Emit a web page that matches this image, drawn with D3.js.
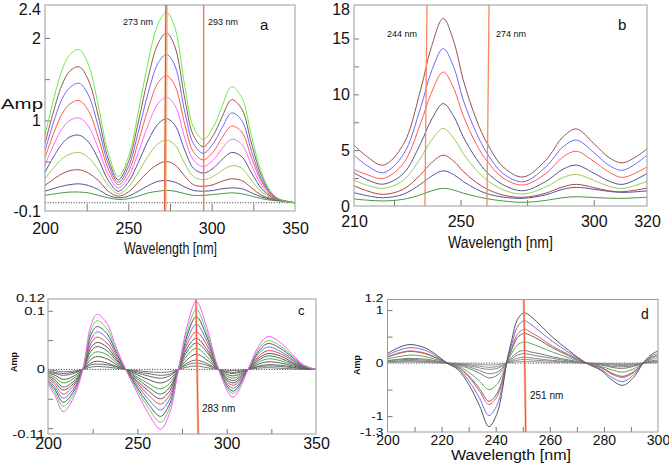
<!DOCTYPE html>
<html><head><meta charset="utf-8">
<script src="https://cdn.jsdelivr.net/npm/d3@7/dist/d3.min.js"></script>
<style>body{margin:0;background:#fff}svg{display:block}text{font-family:"Liberation Sans",Arial,sans-serif;fill:#111}</style>
</head><body><svg id="chart" width="669" height="463"></svg>
<script>
// ---------- Panel a ----------
const wlA = [200,210,215,220.5,226,232,238,244,250,256,262,268,273,278,284,289,295,301,306,312,318,324,330,336,342,350];
const a1 = [0.82,1.60,1.80,1.86,1.68,1.18,0.60,0.32,0.55,1.10,1.72,2.18,2.31,2.12,1.40,0.92,0.77,0.92,1.16,1.41,1.28,0.80,0.36,0.12,0.03,0.00];
const a2 = [0.72,1.42,1.60,1.65,1.49,1.05,0.53,0.28,0.49,0.98,1.53,1.94,2.06,1.89,1.25,0.82,0.68,0.82,1.03,1.25,1.14,0.71,0.32,0.11,0.03,0.00];
const a3 = [0.63,1.25,1.40,1.45,1.31,0.92,0.47,0.25,0.43,0.86,1.34,1.70,1.80,1.66,1.09,0.72,0.60,0.72,0.90,1.09,1.00,0.62,0.28,0.10,0.03,0.00];
const a4 = [0.55,1.07,1.20,1.24,1.12,0.79,0.41,0.22,0.37,0.74,1.15,1.46,1.54,1.42,0.94,0.62,0.52,0.62,0.78,0.93,0.86,0.54,0.25,0.09,0.03,0.00];
const a5 = [0.46,0.89,1.00,1.03,0.93,0.66,0.34,0.18,0.31,0.61,0.95,1.21,1.28,1.18,0.78,0.52,0.44,0.52,0.65,0.77,0.71,0.45,0.21,0.08,0.03,0.00];
const a6 = [0.37,0.71,0.80,0.82,0.74,0.53,0.27,0.14,0.25,0.49,0.76,0.96,1.02,0.94,0.63,0.42,0.36,0.42,0.52,0.61,0.56,0.36,0.17,0.07,0.03,0.00];
const a7 = [0.29,0.53,0.59,0.61,0.55,0.40,0.21,0.11,0.19,0.37,0.57,0.72,0.76,0.70,0.47,0.32,0.28,0.32,0.39,0.45,0.42,0.27,0.13,0.06,0.03,0.00];
const a8 = [0.21,0.35,0.39,0.40,0.36,0.27,0.14,0.08,0.13,0.25,0.38,0.47,0.50,0.46,0.32,0.22,0.20,0.22,0.26,0.29,0.27,0.18,0.09,0.05,0.03,0.00];
const a9 = [0.14,0.20,0.22,0.23,0.21,0.16,0.09,0.06,0.08,0.14,0.21,0.26,0.27,0.25,0.19,0.15,0.14,0.15,0.17,0.18,0.17,0.12,0.07,0.04,0.02,0.00];
const a10 = [0.09,0.12,0.13,0.13,0.12,0.09,0.06,0.04,0.05,0.08,0.12,0.14,0.15,0.14,0.11,0.09,0.09,0.10,0.11,0.12,0.11,0.08,0.05,0.03,0.02,0.00];
const colorsA = ["#66ee44","#9a5555","#6a6aff","#ff5a45","#ff66ff","#55559a","#9acc55","#a84848","#55558a","#449944"];
const xLabelsA = [200,250,300,350], xMarksA = [225,250,275,300,325];
const yLabelsA = [-0.1,1,2,2.4], yMarksA = [0.5,1,1.5,2];

// ---------- Panel b ----------
const wlB = [210,215,221,228.5,235,239,243.5,247.5,251,256,260,266,273.5,282,288.5,293.5,300,306,311,320];
const b1 = [5.45,4.4,3.66,5.5,10.4,14.2,16.8,14.7,11.3,7.7,5.6,3.5,2.6,4.1,6.2,6.9,5.6,4.3,3.87,5.1];
const b2 = [4.55,3.6,2.98,4.6,8.8,12.0,14.1,12.4,9.5,6.5,4.7,2.9,2.17,3.5,5.3,5.9,4.8,3.6,3.2,4.55];
const b3 = [3.27,2.8,2.47,3.8,7.4,10.1,12.0,10.5,8.1,5.5,4.0,2.5,1.88,2.9,4.4,4.9,4.0,3.0,2.56,3.5];
const b4 = [2.97,2.35,1.96,2.9,5.6,7.7,9.17,8.0,6.2,4.2,3.0,1.9,1.37,2.2,3.3,3.66,2.95,2.2,1.94,2.9];
const b5 = [2.32,1.85,1.58,2.3,4.3,5.85,6.94,6.05,4.7,3.2,2.3,1.45,1.07,1.7,2.55,2.83,2.3,1.75,1.58,2.2];
const b6 = [1.81,1.35,1.04,1.5,2.8,3.85,4.55,4.0,3.1,2.1,1.5,0.98,0.78,1.15,1.72,1.94,1.65,1.35,1.28,1.6];
const b7 = [1.19,0.92,0.74,1.05,1.95,2.65,3.15,2.8,2.2,1.5,1.1,0.8,0.69,1.0,1.5,1.67,1.5,1.3,1.22,1.35];
const b8 = [0.63,0.52,0.45,0.6,1.0,1.35,1.58,1.42,1.15,0.85,0.65,0.45,0.33,0.5,0.75,0.83,0.76,0.7,0.69,0.78];
const colorsB = ["#9a5050","#6a6aff","#ff5a55","#55558a","#9acc55","#a84848","#55559a","#449944"];
const xLabelsB = [210,250,300,320], xMarksB = [225,250,275,300];
const yLabelsB = [0,5,10,15,18], yMarksB = [2.5,5,7.5,10,12.5,15];

// ---------- Panel c ----------
const wlC = [200,204,208.5,214,219.5,224,227.5,233,238.5,243.5,250,256,263,268,273,278,283,289,295.5,303.5,312,317,323,330,337,343,350];
const c1 = [-0.025,-0.045,-0.072,-0.050,0,0.075,0.094,0.078,0.035,0,-0.040,-0.074,-0.102,-0.075,0,0.075,0.116,0.070,0,-0.047,0,0.035,0.056,0.046,0.025,0.008,0];
const c2 = [-0.022,-0.040,-0.063,-0.044,0,0.066,0.083,0.069,0.031,0,-0.035,-0.065,-0.090,-0.066,0,0.066,0.102,0.062,0,-0.041,0,0.031,0.049,0.040,0.022,0.007,0];
const c3 = [-0.020,-0.035,-0.056,-0.039,0,0.059,0.073,0.061,0.027,0,-0.031,-0.058,-0.080,-0.059,0,0.059,0.090,0.055,0,-0.037,0,0.027,0.044,0.036,0.020,0.006,0];
const c4 = [-0.017,-0.031,-0.049,-0.034,0,0.051,0.064,0.053,0.024,0,-0.027,-0.050,-0.069,-0.051,0,0.051,0.077,0.048,0,-0.032,0,0.024,0.038,0.031,0.017,0.005,0];
const c5 = [-0.015,-0.026,-0.042,-0.029,0,0.044,0.055,0.045,0.020,0,-0.023,-0.043,-0.059,-0.044,0,0.044,0.064,0.041,0,-0.027,0,0.020,0.032,0.027,0.015,0.005,0];
const c6 = [-0.012,-0.022,-0.035,-0.025,0,0.037,0.046,0.038,0.017,0,-0.020,-0.036,-0.050,-0.037,0,0.037,0.053,0.034,0,-0.023,0,0.017,0.027,0.023,0.012,0.004,0];
const c7 = [-0.010,-0.018,-0.030,-0.021,0,0.031,0.039,0.032,0.014,0,-0.016,-0.030,-0.042,-0.031,0,0.031,0.045,0.029,0,-0.019,0,0.014,0.023,0.019,0.010,0.003,0];
const c8 = [-0.008,-0.014,-0.023,-0.016,0,0.024,0.030,0.025,0.011,0,-0.013,-0.024,-0.033,-0.024,0,0.024,0.036,0.022,0,-0.015,0,0.011,0.018,0.015,0.008,0.003,0];
const c9 = [-0.006,-0.010,-0.017,-0.012,0,0.017,0.022,0.018,0.008,0,-0.009,-0.017,-0.023,-0.017,0,0.017,0.026,0.016,0,-0.011,0,0.008,0.013,0.011,0.006,0.002,0];
const c10 = [-0.004,-0.007,-0.010,-0.007,0,0.011,0.014,0.011,0.005,0,-0.006,-0.011,-0.015,-0.011,0,0.011,0.016,0.010,0,-0.007,0,0.005,0.008,0.007,0.004,0.001,0];
const c11 = [-0.003,-0.005,-0.007,-0.005,0,0.008,0.009,0.008,0.004,0,-0.004,-0.007,-0.010,-0.008,0,0.008,0.011,0.007,0,-0.005,0,0.004,0.006,0.005,0.003,0.001,0];
const c12 = [-0.001,-0.002,-0.004,-0.003,0,0.004,0.005,0.004,0.002,0,-0.002,-0.004,-0.005,-0.004,0,0.004,0.006,0.003,0,-0.002,0,0.002,0.003,0.002,0.001,0,0];
const colorsC = ["#ff55ff","#55dd55","#555555","#5577ee","#ee4444","#555555","#606060","#44aa44","#5a5a5a","#666666","#707070","#777777"];
const xLabelsC = [200,250,300,350], xMarksC = [225,250,275,300,325];
const yLabelsC = [-0.11,0,0.1,0.12], yMarksC = [-0.1,-0.05,0.05,0.1];

// ---------- Panel d ----------
const wlD = [200,204,208,212,215,219,222,226,230,234,237.5,240.5,242.5,244,246,248,250.5,253,256,261,267,273.5,279,283,287,291,294.5,297.5,300];
const dd1 = [0.18,0.29,0.35,0.32,0.26,0.12,0,-0.12,-0.40,-0.80,-1.20,-0.95,-0.50,0,0.45,0.82,0.95,0.88,0.74,0.49,0.24,0,-0.14,-0.32,-0.42,-0.27,0,0.16,0.23];
const dd2 = [0.15,0.24,0.29,0.27,0.22,0.10,0,-0.10,-0.33,-0.66,-0.99,-0.79,-0.42,0,0.37,0.68,0.80,0.73,0.61,0.41,0.20,0,-0.12,-0.27,-0.35,-0.22,0,0.13,0.19];
const dd3 = [0.12,0.19,0.23,0.21,0.17,0.08,0,-0.08,-0.26,-0.53,-0.78,-0.63,-0.33,0,0.30,0.54,0.64,0.58,0.49,0.32,0.16,0,-0.09,-0.21,-0.27,-0.18,0,0.11,0.15];
const dd4 = [0.11,0.18,0.22,0.20,0.16,0.07,0,-0.07,-0.24,-0.48,-0.72,-0.57,-0.30,0,0.26,0.48,0.56,0.52,0.44,0.29,0.14,0,-0.08,-0.19,-0.25,-0.16,0,0.10,0.14];
const dd5 = [0.08,0.12,0.15,0.14,0.11,0.05,0,-0.05,-0.17,-0.34,-0.50,-0.40,-0.21,0,0.19,0.34,0.40,0.37,0.31,0.21,0.10,0,-0.06,-0.13,-0.17,-0.11,0,0.07,0.10];
const dd6 = [0.05,0.07,0.09,0.08,0.07,0.03,0,-0.03,-0.10,-0.19,-0.28,-0.23,-0.12,0,0.11,0.20,0.24,0.21,0.18,0.12,0.06,0,-0.03,-0.08,-0.10,-0.06,0,0.04,0.06];
const dd7 = [0.04,0.06,0.07,0.06,0.05,0.02,0,-0.02,-0.07,-0.14,-0.20,-0.17,-0.09,0,0.08,0.15,0.18,0.16,0.13,0.09,0.04,0,-0.03,-0.06,-0.07,-0.05,0,0.03,0.04];
const dd8 = [0.03,0.04,0.05,0.04,0.03,0.015,0,-0.015,-0.045,-0.09,-0.12,-0.10,-0.055,0,0.05,0.09,0.11,0.10,0.08,0.05,0.03,0,-0.015,-0.035,-0.045,-0.03,0,0.02,0.03];
const dd9 = [0.02,0.03,0.035,0.03,0.025,0.01,0,-0.01,-0.03,-0.055,-0.08,-0.065,-0.035,0,0.03,0.055,0.07,0.06,0.05,0.035,0.02,0,-0.01,-0.02,-0.03,-0.02,0,0.015,0.02];
const dd10 = [0.01,0.015,0.02,0.015,0.01,0.005,0,-0.005,-0.012,-0.024,-0.035,-0.03,-0.015,0,0.013,0.025,0.03,0.027,0.022,0.015,0.007,0,-0.005,-0.01,-0.013,-0.008,0,0.005,0.007];
const colorsD = ["#555555","#6677ee","#ee5555","#666666","#55aa55","#777777","#808080","#888888","#909090","#999999"];
const xLabelsD = [200,220,240,260,280,300], xMarksD = [210,220,230,240,250,260,270,280,290];
const yLabelsD = [-1.3,-1,0,1,1.2], yMarksD = [-1,-0.5,0.5,1];

const svg = d3.select("#chart");

function drawPanel(p) {
  const x = d3.scaleLinear().domain(p.xDomain).range([p.left, p.right]);
  const y = d3.scaleLinear().domain(p.yDomain).range([p.bottom, p.top]);
  const g = svg.append("g");
  const cid = "clip-" + p.name;
  svg.append("clipPath").attr("id", cid).append("rect")
    .attr("x", p.left).attr("y", p.top).attr("width", p.right - p.left).attr("height", p.bottom - p.top);

  g.append("g").attr("transform", `translate(0,${p.bottom})`)
    .call(d3.axisBottom(x).tickValues(p.xMarks).tickSize(-p.xTick).tickFormat(""))
    .call(s => { s.select(".domain").remove(); s.selectAll("line").attr("stroke", "#777"); });
  g.append("g").attr("transform", `translate(${p.left},0)`)
    .call(d3.axisLeft(y).tickValues(p.yMarks).tickSize(-p.yTick).tickFormat(""))
    .call(s => { s.select(".domain").remove(); s.selectAll("line").attr("stroke", "#777"); });

  g.append("g").attr("transform", `translate(0,${p.bottom})`)
    .call(d3.axisBottom(x).tickValues(p.xLabels).tickSize(0).tickPadding(p.xPad).tickFormat(d3.format("d")))
    .call(s => { s.select(".domain").remove(); s.selectAll("text").attr("font-size", p.xFont).attr("fill", "#111")
      .attr("font-family", "Liberation Sans, Arial, sans-serif"); });
  g.append("g").attr("transform", `translate(${p.left},0)`)
    .call(d3.axisLeft(y).tickValues(p.yLabels).tickSize(0).tickPadding(p.yPad).tickFormat(d => String(d)))
    .call(s => {
      s.select(".domain").remove();
      s.selectAll("text").attr("font-size", p.yFont).attr("fill", "#111")
        .attr("font-family", "Liberation Sans, Arial, sans-serif")
        .attr("dy", d => d === p.yDomain[1] ? p.topDy : "0.32em")
        .each(function () {
          if (p.yStretch) {
            const w = this.getComputedTextLength();
            d3.select(this).attr("textLength", w * p.yStretch).attr("lengthAdjust", "spacingAndGlyphs");
          }
        });
    });

  if (p.zero) {
    g.append("line").attr("x1", p.left).attr("x2", p.right).attr("y1", y(0)).attr("y2", y(0))
      .attr("stroke", "#333").attr("stroke-width", 1).attr("stroke-dasharray", "1,1.6");
  }

  const line = d3.line().x((d, i) => x(p.wl[i])).y(d => y(d)).curve(d3.curveCatmullRom.alpha(0.5));
  g.append("g").attr("clip-path", `url(#${cid})`)
    .selectAll("path").data(p.series.slice().reverse()).join("path")
    .attr("d", line).attr("fill", "none")
    .attr("stroke", (d, i) => p.colors[p.series.length - 1 - i]).attr("stroke-width", 1);

  const mg = g.append("g").attr("clip-path", `url(#${cid})`);
  p.markers.forEach(m => {
    mg.append("line").attr("x1", x(m.top)).attr("x2", x(m.bot)).attr("y1", p.top).attr("y2", p.bottom + 2)
      .attr("stroke", m.color).attr("stroke-width", m.width).attr("opacity", m.op || 1);
  });

  g.append("rect").attr("x", p.left).attr("y", p.top).attr("width", p.right - p.left).attr("height", p.bottom - p.top)
    .attr("fill", "none").attr("stroke", "#9a9a9a").attr("stroke-width", 1);
  return g;
}

drawPanel({name:"a", left:45, right:295, top:5, bottom:211, xDomain:[200,350], yDomain:[-0.1,2.4],
  wl:wlA, series:[a1,a2,a3,a4,a5,a6,a7,a8,a9,a10], colors:colorsA,
  xLabels:xLabelsA, xMarks:xMarksA, yLabels:yLabelsA, yMarks:yMarksA, xTick:7, yTick:5,
  xPad:12, yPad:4, xFont:16, yFont:16, topDy:"0.62em", zero:true,
  markers:[{top:272.9,bot:272.1,color:"#f6b07a",width:3,op:0.8},{top:272.5,bot:271.8,color:"#e0442a",width:1},
           {top:295.2,bot:295.2,color:"#f07a5a",width:1.4}]});

drawPanel({name:"b", left:354, right:647, top:5, bottom:206, xDomain:[210,320], yDomain:[0,18],
  wl:wlB, series:[b1,b2,b3,b4,b5,b6,b7,b8], colors:colorsB,
  xLabels:xLabelsB, xMarks:xMarksB, yLabels:yLabelsB, yMarks:yMarksB, xTick:6, yTick:5,
  xPad:10, yPad:4, xFont:16, yFont:16, topDy:"0.62em", zero:false,
  markers:[{top:237.4,bot:236.6,color:"#f58a60",width:1.3},{top:260.7,bot:259.9,color:"#f58a60",width:1.3}]});

drawPanel({name:"c", left:48, right:316, top:299, bottom:434, xDomain:[200,350], yDomain:[-0.11,0.12],
  wl:wlC, series:[c1,c2,c3,c4,c5,c6,c7,c8,c9,c10,c11,c12], colors:colorsC,
  xLabels:xLabelsC, xMarks:xMarksC, yLabels:yLabelsC, yMarks:yMarksC, xTick:5, yTick:5,
  xPad:4, yPad:3, xFont:16, yFont:11, yStretch:1.35, topDy:"0.2em", zero:true,
  markers:[{top:282.8,bot:284.1,color:"#f8a080",width:2.4,op:0.7},{top:282.8,bot:284.1,color:"#ee5533",width:1}]});

drawPanel({name:"d", left:387.5, right:658, top:299.5, bottom:432, xDomain:[200,300], yDomain:[-1.3,1.2],
  wl:wlD, series:[dd1,dd2,dd3,dd4,dd5,dd6,dd7,dd8,dd9,dd10], colors:colorsD,
  xLabels:xLabelsD, xMarks:xMarksD, yLabels:yLabelsD, yMarks:yMarksD, xTick:5, yTick:5,
  xPad:3, yPad:4, xFont:14, yFont:11, yStretch:1.25, topDy:"0.2em", zero:true,
  markers:[{top:250.4,bot:251.1,color:"#f8a080",width:2.4,op:0.7},{top:250.4,bot:251.1,color:"#ee5533",width:1}]});

const T = (x, y, t, size, opt = {}) => {
  const e = svg.append("text").attr("x", x).attr("y", y).attr("font-size", size).text(t);
  if (opt.anchor) e.attr("text-anchor", opt.anchor);
  if (opt.len) e.attr("textLength", opt.len).attr("lengthAdjust", "spacingAndGlyphs");
  if (opt.bold) e.attr("font-weight", "bold");
  if (opt.rot) e.attr("transform", `rotate(-90,${x},${y})`);
  return e;
};
T(1, 109, "Amp", 15, {len:42});
T(123, 25, "273 nm", 9);
T(208, 25, "293 nm", 9);
T(260, 30, "a", 15);
T(124, 254, "Wavelength [nm]", 16, {len:93});
T(387, 37, "244 nm", 9);
T(496, 37, "274 nm", 9);
T(618, 30, "b", 15);
T(448, 248, "Wavelength [nm]", 16, {len:105});
T(17, 362, "Amp", 9, {bold:true, rot:true, anchor:"middle"});
T(202, 412, "283 nm", 10);
T(298, 315, "c", 13);
T(360, 365, "Amp", 9, {bold:true, rot:true, anchor:"middle"});
T(530, 399, "251 nm", 10);
T(641, 319, "d", 14);
T(451, 460, "Wavelength [nm]", 14, {len:120});
</script></body></html>
